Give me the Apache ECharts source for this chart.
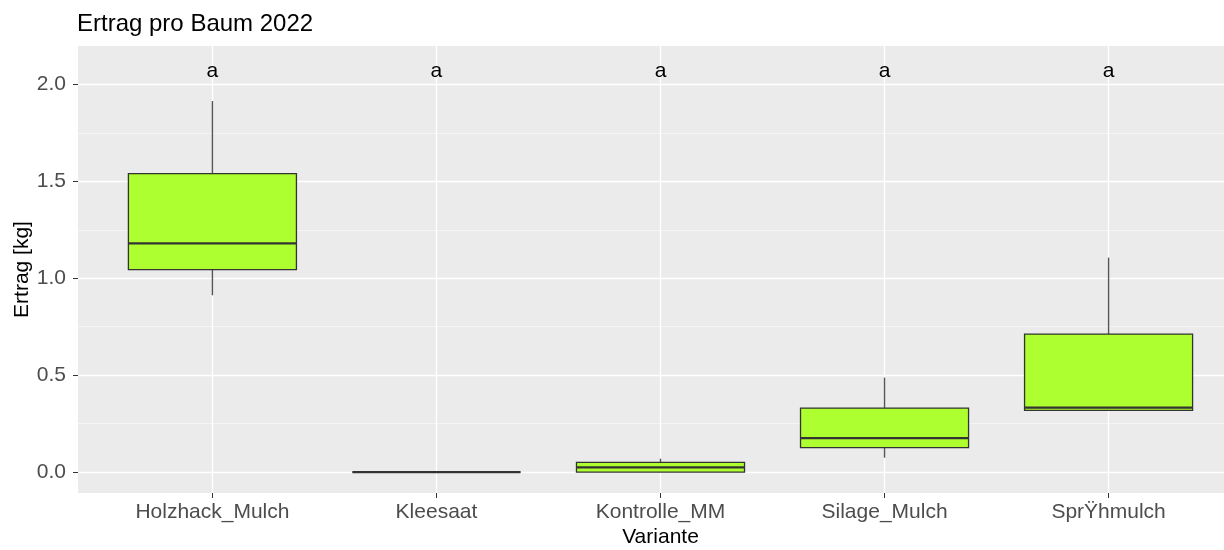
<!DOCTYPE html>
<html>
<head>
<meta charset="utf-8">
<script src="https://cdn.jsdelivr.net/npm/echarts@6/dist/echarts.min.js"></script>
<style>
html,body{margin:0;padding:0;background:#fff;}
#chart{width:1224px;height:550px;}
</style>
</head>
<body>
<div id="chart"></div>
<script>
// ---- data ----
const categories = ['Holzhack_Mulch', 'Kleesaat', 'Kontrolle_MM', 'Silage_Mulch', 'SprŸhmulch'];
const lowerWhisker = [0.912, 0, 0, 0.074, 0.318];
const q1 = [1.044, 0, 0, 0.126, 0.318];
const median = [1.180, 0, 0.024, 0.175, 0.332];
const q3 = [1.540, 0, 0.050, 0.330, 0.712];
const upperWhisker = [1.914, 0, 0.069, 0.487, 1.106];
const letters = ['a', 'a', 'a', 'a', 'a'];
const letterLevel = 2.07;
const yTicks = [0, 0.5, 1, 1.5, 2];
const catIdx = categories.map((c, i) => i);

const boxData = categories.map((c, i) => [i, lowerWhisker[i], q1[i], median[i], q3[i], upperWhisker[i]]);
const letterData = categories.map((c, i) => [i, letterLevel, letters[i]]);

const FONT = '"Liberation Sans", Arial, sans-serif';
const chart = echarts.init(document.getElementById('chart'), null, {renderer: 'canvas'});

function renderBox(params, api) {
  const x = api.value(0);
  const pLw = api.coord([x, api.value(1)]);
  const pQ1 = api.coord([x, api.value(2)]);
  const pMd = api.coord([x, api.value(3)]);
  const pQ3 = api.coord([x, api.value(4)]);
  const pUw = api.coord([x, api.value(5)]);
  const half = api.size([0.75, 0])[0] / 2;
  const cx = pQ1[0];
  const stroke = '#333333';
  return {
    type: 'group',
    children: [
      {type: 'line', shape: {x1: cx, y1: pQ3[1], x2: cx, y2: pUw[1]}, style: {stroke: '#555555', lineWidth: 1.4}},
      {type: 'line', shape: {x1: cx, y1: pLw[1], x2: cx, y2: pQ1[1]}, style: {stroke: '#555555', lineWidth: 1.4}},
      {type: 'rect', shape: {x: cx - half, y: pQ3[1], width: 2 * half, height: pQ1[1] - pQ3[1]},
        style: {fill: '#ADFF2F', stroke: stroke, lineWidth: 1.3}},
      {type: 'line', shape: {x1: cx - half, y1: pMd[1], x2: cx + half, y2: pMd[1]}, style: {stroke: stroke, lineWidth: 2.2}}
    ]
  };
}

function renderLetter(params, api) {
  const p = api.coord([api.value(0), api.value(1)]);
  return {
    type: 'text',
    x: p[0], y: p[1],
    style: {
      text: letters[params.dataIndex],
      fill: '#000000',
      fontSize: 21,
      fontFamily: FONT,
      align: 'center',
      verticalAlign: 'middle'
    }
  };
}

const option = {
  backgroundColor: '#ffffff',
  animation: false,
  title: {
    text: 'Ertrag pro Baum 2022',
    left: 77, top: 12, padding: 0,
    textStyle: {fontFamily: FONT, fontSize: 24, fontWeight: 'normal', color: '#000000', lineHeight: 24}
  },
  grid: {
    left: 78, top: 46, width: 1165, height: 447,
    outerBoundsMode: 'none', containLabel: false,
    show: true, backgroundColor: '#EBEBEB', borderWidth: 0
  },
  xAxis: {
    type: 'value', min: -0.6, max: 4.6,
    name: 'Variante', nameLocation: 'middle', nameGap: 34, nameMoveOverlap: false,
    nameTextStyle: {fontFamily: FONT, fontSize: 21, color: '#000000'},
    axisLine: {show: false, onZero: false},
    axisTick: {show: true, length: 5, customValues: catIdx, lineStyle: {color: '#333333', width: 1}},
    axisLabel: {
      customValues: catIdx, margin: 9,
      formatter: v => categories[Math.round(v)] || '',
      fontFamily: FONT, fontSize: 21, color: '#4D4D4D'
    },
    splitLine: {show: true, lineStyle: {color: '#FFFFFF', width: 1.4}},
    minorSplitLine: {show: false}
  },
  yAxis: {
    type: 'value', min: -0.108, max: 2.198,
    name: 'Ertrag [kg]', nameLocation: 'middle', nameGap: 45, nameMoveOverlap: false,
    nameTextStyle: {fontFamily: FONT, fontSize: 21, color: '#000000'},
    axisLine: {show: false, onZero: false},
    axisTick: {show: true, length: 5, customValues: yTicks, lineStyle: {color: '#333333', width: 1}},
    axisLabel: {
      customValues: yTicks, margin: 12,
      formatter: v => Number(v).toFixed(1),
      fontFamily: FONT, fontSize: 21, color: '#4D4D4D'
    },
    splitLine: {show: true, lineStyle: {color: '#FFFFFF', width: 1.4}},
    minorTick: {show: false, splitNumber: 2},
    minorSplitLine: {show: true, lineStyle: {color: '#F7F7F7', width: 0.8}}
  },
  series: [
    {
      type: 'custom', name: 'Ertrag', renderItem: renderBox,
      encode: {x: 0, y: [1, 2, 3, 4, 5]},
      data: boxData, clip: false, z: 3
    },
    {
      type: 'custom', name: 'Gruppen', renderItem: renderLetter,
      encode: {x: 0, y: 1},
      data: letterData, z: 4
    }
  ]
};
chart.setOption(option);
</script>
</body>
</html>
